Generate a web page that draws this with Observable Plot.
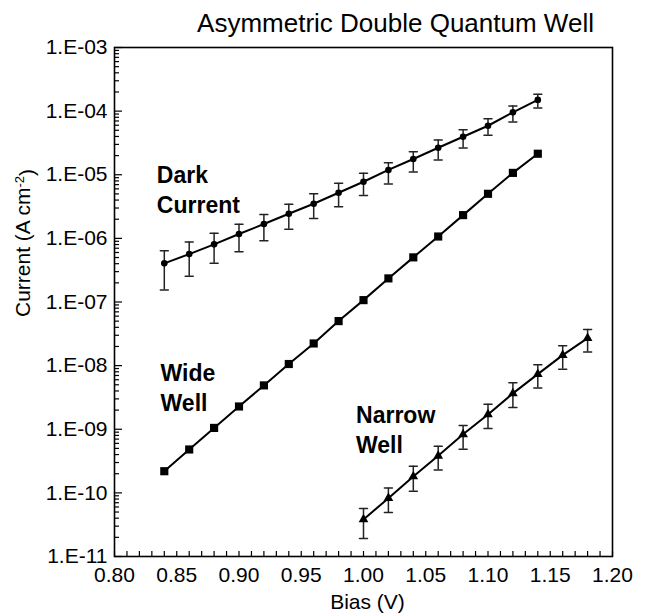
<!DOCTYPE html>
<html><head><meta charset="utf-8">
<script src="https://cdn.jsdelivr.net/npm/d3@7"></script>
<script src="https://cdn.jsdelivr.net/npm/@observablehq/plot@0.6"></script>
<style>body{margin:0;background:#fff}</style>
</head><body><div id="chart"></div>
<script>
const title = "Asymmetric Double Quantum Well";
const xLabel = "Bias (V)";
const yLabel = "Current (A cm-2)";

const bias = [0.84,0.86,0.88,0.90,0.92,0.94,0.96,0.98,1.00,1.02,1.04,1.06,1.08,1.10,1.12,1.14];
const darkCurrent = [4.05e-7,5.66e-7,8.05e-7,1.17e-6,1.68e-6,2.44e-6,3.50e-6,5.21e-6,7.76e-6,1.19e-5,1.77e-5,2.66e-5,3.96e-5,5.89e-5,9.57e-5,1.50e-4];
const darkUpper = [6.38e-7,8.75e-7,1.20e-6,1.66e-6,2.38e-6,3.43e-6,5.02e-6,7.33e-6,1.06e-5,1.55e-5,2.30e-5,3.51e-5,5.10e-5,7.60e-5,1.20e-4,1.84e-4];
const darkLower = [1.54e-7,2.55e-7,4.05e-7,6.15e-7,9.17e-7,1.39e-6,2.06e-6,3.14e-6,4.74e-6,7.14e-6,1.10e-5,1.70e-5,2.63e-5,4.16e-5,6.74e-5,1.12e-4];
const wideWell = [2.19e-10,4.81e-10,1.05e-9,2.28e-9,4.89e-9,1.06e-8,2.23e-8,5.01e-8,1.07e-7,2.35e-7,5.03e-7,1.07e-6,2.32e-6,5.02e-6,1.07e-5,2.14e-5];

const narrowBias = [1.00,1.02,1.04,1.06,1.08,1.10,1.12,1.14,1.16,1.18];
const narrowWell = [3.82e-11,8.26e-11,1.81e-10,3.82e-10,8.32e-10,1.71e-9,3.66e-9,7.35e-9,1.46e-8,2.71e-8];
const narrowUpper = [5.69e-11,1.19e-10,2.63e-10,5.42e-10,1.15e-9,2.47e-9,5.37e-9,1.03e-8,2.05e-8,3.71e-8];
const narrowLower = [1.92e-11,4.92e-11,1.06e-10,2.28e-10,4.86e-10,1.03e-9,2.20e-9,4.43e-9,8.81e-9,1.63e-8];

const xTicks = [0.80,0.85,0.90,0.95,1.00,1.05,1.10,1.15,1.20];
const xMinorTicks = [0.80,0.81,0.82,0.83,0.84,0.85,0.86,0.87,0.88,0.89,0.90,0.91,0.92,0.93,0.94,0.95,0.96,0.97,0.98,0.99,1.00,1.01,1.02,1.03,1.04,1.05,1.06,1.07,1.08,1.09,1.10,1.11,1.12,1.13,1.14,1.15,1.16,1.17,1.18,1.19,1.20];
const yTicks = [1e-11,1e-10,1e-9,1e-8,1e-7,1e-6,1e-5,1e-4,1e-3];
const yMinorMultiples = [2,3,4,5,6,7,8,9];

const labelNames = ["Dark\nCurrent", "Wide\nWell", "Narrow\nWell"];
const labelBias = [0.834, 0.837, 0.994];
const labelCurrent = [1.58e-5, 1.22e-8, 2.68e-9];

const darkData = bias.map((b, i) => ({bias: b, current: darkCurrent[i], upper: darkUpper[i], lower: darkLower[i]}));
const wideData = bias.map((b, i) => ({bias: b, current: wideWell[i]}));
const narrowData = narrowBias.map((b, i) => ({bias: b, current: narrowWell[i], upper: narrowUpper[i], lower: narrowLower[i]}));
const labels = labelNames.map((t, i) => ({text: t, bias: labelBias[i], current: labelCurrent[i]}));
const yMinorTicks = yTicks.slice(0, -1).flatMap(d => yMinorMultiples.map(m => d * m));

const fmtY = d => { const e = Math.round(Math.log10(d)); return "1.E" + (e < 0 ? "-" : "+") + String(Math.abs(e)).padStart(2, "0"); };
const capShape = {draw(context, l) { context.moveTo(0, 0); context.lineTo(0, -l); }};
const font = "'Liberation Sans', Arial, Helvetica, sans-serif";

const chart = Plot.plot({
  width: 652,
  height: 615,
  marginTop: 47,
  marginLeft: 114,
  marginRight: 40,
  marginBottom: 59,
  style: {fontFamily: font, fontSize: "21px", color: "black", background: "white"},
  x: {domain: [0.80, 1.20]},
  y: {type: "log", domain: [1e-11, 1e-3]},
  marks: [
    Plot.axisX(xMinorTicks, {tickSize: -5, tickFormat: () => "", strokeWidth: 1.2, label: null}),
    Plot.axisX(xTicks, {tickSize: 0, tickPadding: 11, tickFormat: d3.format(".2f"), fontSize: 21, label: null}),
    Plot.axisY(yMinorTicks, {tickSize: -5, tickFormat: () => "", strokeWidth: 1.2, label: null}),
    Plot.axisY(yTicks, {tickSize: -8, tickPadding: 15, tickFormat: fmtY, fontSize: 21, label: null, strokeWidth: 1.2}),
    Plot.frame({stroke: "black", strokeWidth: 1.6}),
    Plot.ruleX(darkData, {x: "bias", y1: "lower", y2: "upper", stroke: "#222", strokeWidth: 1.5}),
    Plot.vector(darkData, {x: "bias", y: "upper", rotate: 90, length: 8, anchor: "middle", shape: capShape, stroke: "#222", strokeWidth: 1.5}),
    Plot.vector(darkData, {x: "bias", y: "lower", rotate: 90, length: 8, anchor: "middle", shape: capShape, stroke: "#222", strokeWidth: 1.5}),
    Plot.ruleX(narrowData, {x: "bias", y1: "lower", y2: "upper", stroke: "#222", strokeWidth: 1.5}),
    Plot.vector(narrowData, {x: "bias", y: "upper", rotate: 90, length: 8, anchor: "middle", shape: capShape, stroke: "#222", strokeWidth: 1.5}),
    Plot.vector(narrowData, {x: "bias", y: "lower", rotate: 90, length: 8, anchor: "middle", shape: capShape, stroke: "#222", strokeWidth: 1.5}),
    Plot.line(darkData, {x: "bias", y: "current", stroke: "black", strokeWidth: 2}),
    Plot.line(wideData, {x: "bias", y: "current", stroke: "black", strokeWidth: 2}),
    Plot.line(narrowData, {x: "bias", y: "current", stroke: "black", strokeWidth: 2}),
    Plot.dot(darkData, {x: "bias", y: "current", r: 3.3, fill: "black"}),
    Plot.dot(wideData, {x: "bias", y: "current", symbol: "square", r: 4.6, fill: "black"}),
    Plot.dot(narrowData, {x: "bias", y: "current", symbol: "triangle", r: 3.6, fill: "black"}),
    Plot.text(labels, {x: "bias", y: "current", text: "text", textAnchor: "start", lineAnchor: "top", lineHeight: 1.3, fontSize: 23, fontWeight: "bold", fill: "black"}),
    Plot.text([title], {text: d => d, frameAnchor: "top", lineAnchor: "middle", dy: -24, dx: 32, fontSize: 26, fill: "black"}),
    Plot.text([xLabel], {text: d => d, frameAnchor: "bottom", lineAnchor: "middle", dy: 46, dx: 4, fontSize: 21, fill: "black"}),
    Plot.text([yLabel], {text: d => d, frameAnchor: "left", lineAnchor: "middle", rotate: -90, dx: -91, dy: 15, fontSize: 21, fill: "black"})
  ]
});

d3.select(chart).selectAll("text").filter(function() { return this.textContent === yLabel; })
  .each(function() {
    const t = d3.select(this);
    t.text(null);
    t.append("tspan").text("Current (A cm");
    t.append("tspan").attr("dy", "-0.5em").attr("font-size", "13px").text("-2");
    t.append("tspan").attr("dy", "0.5em").text(")");
  });

document.getElementById("chart").appendChild(chart);
</script>
</body></html>
